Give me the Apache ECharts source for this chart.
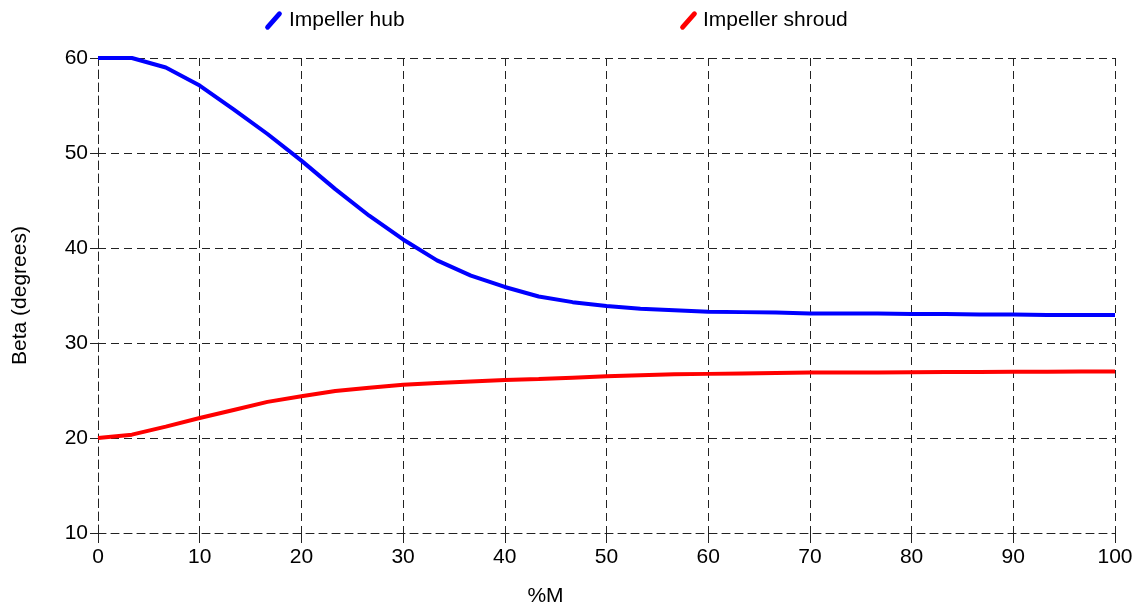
<!DOCTYPE html>
<html>
<head>
<meta charset="utf-8">
<script src="https://cdn.jsdelivr.net/npm/echarts@6/dist/echarts.min.js"></script>
<style>html,body{margin:0;padding:0;background:#fff}#c{width:1142px;height:612px}</style>
</head>
<body>
<div id="c"></div>
<script>
var xValues = [0, 3.333, 6.667, 10, 13.333, 16.667, 20, 23.333, 26.667, 30, 33.333, 36.667, 40, 43.333, 46.667, 50, 53.333, 56.667, 60, 63.333, 66.667, 70, 73.333, 76.667, 80, 83.333, 86.667, 90, 93.333, 96.667, 100];
var hubValues = [60, 60, 59.0, 57.1, 54.6, 52.0, 49.2, 46.2, 43.4, 40.9, 38.7, 37.1, 35.9, 34.9, 34.3, 33.9, 33.6, 33.45, 33.3, 33.25, 33.2, 33.1, 33.1, 33.1, 33.05, 33.05, 33.0, 33.0, 32.95, 32.95, 32.95];
var shroudValues = [20.0, 20.35, 21.2, 22.1, 22.95, 23.8, 24.4, 24.95, 25.3, 25.6, 25.8, 25.95, 26.1, 26.2, 26.35, 26.5, 26.6, 26.7, 26.75, 26.8, 26.85, 26.9, 26.9, 26.9, 26.92, 26.94, 26.95, 26.97, 26.98, 27.0, 27.0];
var seriesNames = ['Impeller hub', 'Impeller shroud'];
var xAxisName = '%M';
var yAxisName = 'Beta (degrees)';

function pairs(xs, ys) { return xs.map(function (x, i) { return [x, ys[i]]; }); }

var font = 'Liberation Sans, Arial, sans-serif';
var fs = 21;
var slash = 'path://M1,9 L8,1 Q9,0 10,1 Q11,2 10,3 L3,11 Q2,12 1,11 Q0,10 1,9 Z';
var gridLine = { show: true, lineStyle: { color: '#222', width: 1, type: [8, 5] } };

var chart = echarts.init(document.getElementById('c'), null, { renderer: 'canvas' });
chart.setOption({
  animation: false,
  backgroundColor: '#fff',
  textStyle: { fontFamily: font },
  legend: [
    { data: [seriesNames[0]], left: 260, top: 5, icon: slash, itemWidth: 17, itemHeight: 19, itemGap: 10,
      textStyle: { fontSize: fs, color: '#000', fontFamily: font, padding: [0, 0, 0, 2] } },
    { data: [seriesNames[1]], left: 675, top: 5, icon: slash, itemWidth: 17, itemHeight: 19, itemGap: 10,
      textStyle: { fontSize: fs, color: '#000', fontFamily: font, padding: [0, 0, 0, 1] } }
  ],
  grid: { left: 98, right: 27, top: 58, bottom: 79, containLabel: false, outerBoundsMode: 'none' },
  xAxis: {
    type: 'value', min: 0, max: 100, interval: 10,
    name: xAxisName, nameLocation: 'middle', nameGap: 53,
    nameTextStyle: { fontSize: fs, color: '#000', padding: [0, 122, 0, 0] },
    axisLine: { show: true, lineStyle: { color: '#222', width: 1, type: [8, 5] } },
    axisTick: { show: true, length: 10, lineStyle: { color: '#222' } },
    axisLabel: { fontSize: fs, color: '#000', margin: 14 },
    splitLine: gridLine
  },
  yAxis: {
    type: 'value', min: 10, max: 60, interval: 10,
    name: yAxisName, nameLocation: 'middle', nameGap: 67, nameRotate: 90,
    nameTextStyle: { fontSize: fs, color: '#000' },
    axisLine: { show: true, lineStyle: { color: '#222', width: 1, type: [8, 5] } },
    axisTick: { show: true, length: 8, lineStyle: { color: '#222' } },
    axisLabel: { fontSize: fs, color: '#000', margin: 10 },
    splitLine: gridLine
  },
  series: [
    { name: seriesNames[0], type: 'line', data: pairs(xValues, hubValues), showSymbol: false, symbol: 'none',
      lineStyle: { color: '#0000ff', width: 4 }, itemStyle: { color: '#0000ff' } },
    { name: seriesNames[1], type: 'line', data: pairs(xValues, shroudValues), showSymbol: false, symbol: 'none',
      lineStyle: { color: '#ff0000', width: 4 }, itemStyle: { color: '#ff0000' } }
  ]
});
</script>
</body>
</html>
